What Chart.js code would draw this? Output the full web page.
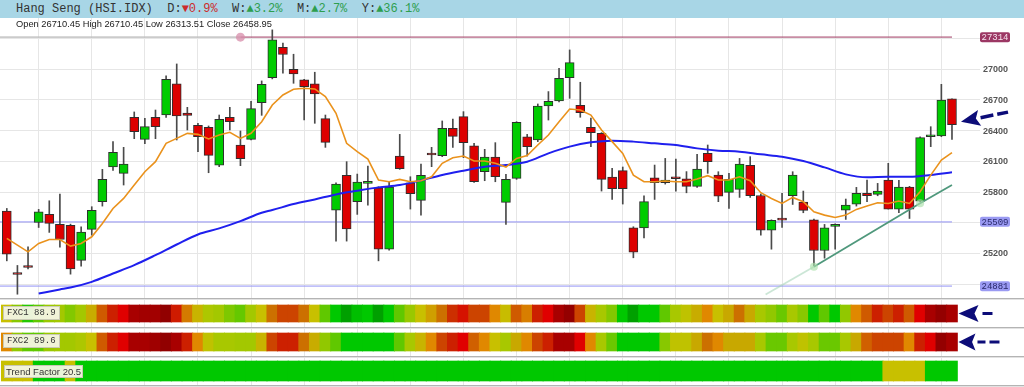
<!DOCTYPE html>
<html><head><meta charset="utf-8">
<script src="https://cdn.jsdelivr.net/npm/chart.js@4.4.1/dist/chart.umd.min.js"></script>
<style>
html,body{margin:0;padding:0;background:#fff;width:1024px;height:387px;overflow:hidden;position:relative;font-family:'Liberation Sans',Arial,sans-serif;}
.abs{position:absolute;}
#header{left:0;top:0;width:1024px;height:18px;background:#a8d6e6;font-family:'Liberation Mono','Courier New',monospace;font-size:12px;line-height:18px;color:#333;white-space:pre;}
#header .t{padding-left:16px;}
.dn{color:#cc2b2b;} .up{color:#2e9e4e;}
#ohlc{left:16px;top:18px;font-size:9.3px;line-height:13px;color:#222;white-space:pre;z-index:5;}
.sep{left:0;width:1024px;height:1px;background:#b4b4b4;border-bottom:1px solid #e2e2e2;z-index:4;}
.lab{background:rgba(246,246,228,0.95);border:1px solid #c9c9b4;color:#333;z-index:6;white-space:pre;}
.mono{font-family:'Liberation Mono','Courier New',monospace;font-size:9px;line-height:12px;padding:0 3px;}
.sans{font-family:'Liberation Sans',Arial,sans-serif;font-size:9.5px;line-height:11px;padding:0 1px;}
</style></head>
<body>
<div id="header" class="abs"></div>
<div id="ohlc" class="abs"></div>
<div class="abs" style="left:0;top:18px;width:1024px;height:280px;"><canvas id="main"></canvas></div>
<div class="abs sep" style="top:298px"></div>
<div class="abs" style="left:0;top:300px;width:1024px;height:27px;"><canvas id="s1"></canvas></div>
<div class="abs sep" style="top:327px"></div>
<div class="abs" style="left:0;top:328px;width:1024px;height:28px;"><canvas id="s2"></canvas></div>
<div class="abs sep" style="top:356px"></div>
<div class="abs" style="left:0;top:357px;width:1024px;height:28px;"><canvas id="s3"></canvas></div>
<div class="abs sep" style="top:385px"></div>
<div id="lab1" class="abs lab mono" style="left:3px;top:306px;"></div>
<div id="lab2" class="abs lab mono" style="left:3px;top:334px;"></div>
<div id="lab3" class="abs lab sans" style="left:4px;top:365px;"></div>
<script>
// ---------------- DATA ----------------
const title = 'Hang Seng (HSI.IDX)';
const changeKeys = ['D','W','M','Y'];
const changeVals = [-0.9, 3.2, 2.7, 36.1];

const open  = [25614,25014,25080,25503,25582,25484,25474,25132,25435,25706,
               26045,25983,26531,26315,26531,26553,26857,26573,26452,26433,
               26064,26531,26260,26315,26674,26919,27215,27000,26896,26857,
               26518,25624,25963,25706,25885,25842,25242,26152,25891,25719,
               26169,26156,26423,26537,26253,25999,26143,25699,25934,26341,
               26309,26641,26690,26919,26648,26433,26374,25947,26009,25451,
               25451,25940,25891,25934,25930,25855,26178,25966,25797,25826,
               26061,25767,25428,25529,25764,25702,25529,25229,25464,25624,
               25683,25787,25777,25917,25634,25849,25712,26341,26348,26710.45];
const high  = [25640,25083,25265,25631,25715,25781,25487,25461,25657,26022,
               26293,26237,26583,26521,26602,26935,27052,26628,26472,26446,
               26553,26628,26397,26687,26886,27385,27255,27147,26902,26971,
               26553,25891,26097,25976,26054,25852,25901,26364,25950,26074,
               26237,26495,26514,26586,26276,26218,26283,25973,26488,26364,
               26661,26782,27010,27189,26873,26524,26381,26032,26045,25461,
               25764,26064,26129,26123,26000,26169,26260,25999,25983,26129,
               26146,25781,25529,25787,25999,25810,25536,25484,25490,25732,
               25846,25917,25885,26081,25914,25856,26341,26439,26853,26710.45];
const low   = [25128,24802,25050,25454,25406,25262,24998,25076,25379,25663,
               26012,25869,26322,26273,26322,26530,26309,26407,26195,25989,
               26048,26407,26058,26309,26550,26906,26961,26863,26504,26472,
               26237,25321,25321,25582,25673,25128,25233,26022,25634,25575,
               26048,26146,26237,26136,25895,25911,25901,25484,25924,26152,
               26293,26504,26681,26716,26531,26244,25810,25728,25683,25158,
               25353,25728,25878,25810,25793,25846,25983,25706,25640,25748,
               25748,25379,25242,25454,25679,25598,25079,25154,25242,25533,
               25663,25706,25764,25634,25598,25542,25706,26244,26341,26313.51];
const close = [25194,24995,25063,25608,25494,25337,25050,25409,25621,25924,
               26188,26074,26390,26439,26439,26902,26544,26550,26341,26159,
               26511,26488,26126,26615,26853,27287,27144,26954,26831,26759,
               26286,25878,25441,25898,25891,25242,25849,26028,25784,25963,
               26162,26423,26345,26283,25901,26143,25950,25924,26482,26244,
               26641,26687,26912,27065,26576,26381,25924,25833,25833,25213,
               25706,25891,25917,25930,25855,26025,26097,25761,25924,26074,
               25764,25428,25523,25526,25966,25621,25229,25451,25484,25673,
               25787,25764,25810,25634,25849,25634,26332,26348,26700,26458.95];
// orange short moving average (read per candle)
const maFast = [25347,25282,25216,25298,25337,25337,25272,25298,25363,25494,
                25640,25738,25869,25999,26097,26276,26325,26374,26364,26319,
                26358,26384,26325,26374,26488,26651,26749,26805,26814,26808,
                26733,26570,26276,26195,26123,25918,25901,25924,25901,25911,
                25950,26081,26136,26152,26103,26103,26081,26045,26129,26156,
                26260,26358,26488,26612,26602,26553,26407,26293,26178,25966,
                25901,25901,25908,25901,25901,25927,25960,25918,25918,25950,
                25911,25794,25738,25689,25748,25706,25608,25575,25552,25575,
                25631,25663,25696,25689,25712,25689,25803,25966,26113,26185];
// blue long moving average (read at every other candle)
const maSlow = [null,null,null,24809,null,24848,24867,null,24923,null,
                25004,null,25086,null,25184,null,25288,null,25386,null,
                25445,null,25516,null,25598,25624,null,25683,null,25728,
                null,25777,null,25813,null,25846,null,25869,null,25914,
                null,25967,null,26009,null,26048,null,26064,null,26097,
                null,26178,null,26244,null,26286,null,26302,null,26293,
                null,26276,null,26260,null,26227,null,26205,null,26195,
                null,26169,null,26146,null,26103,null,26041,null,25973,
                null,25944,null,25950,null,25950,null,25967,null,25993];
// support/resistance levels
const levelValues = [27314, 25509, 24881];
const levelAnchor = 23;
// trend line (candle position, price)
const trendX = [72.45, 77, 87, 90];
const trendY = [24800, 25071, 25690, 25869];
// indicator strips (0 = strongly bearish, 100 = strongly bullish)
const fxc1 = [58,72,85,80,68, 66,73,66,53,36, 25,18,10,8,8, 2,24,42,55,64,
              66,74,79,66,58, 40,32,32,40,58, 80,88,96,90,88, 96,88,80,68,58,
              50,40,28,22,32, 32,45,57,36,43, 25,18,10,3,32, 55,65,73,88,96,
              88,88,80,65,60, 53,45,58,52,40, 52,65,70,78,65, 72,88,80,88,70,
              45,36,25,32,25, 36,18,10,3,10];
const fxc2 = [45,70,80,80,68, 66,66,64,58,36, 25,18,10,10,7, 2,10,25,45,60,
              65,65,66,66,55, 32,25,25,40,53, 70,80,88,88,88, 88,88,80,65,55,
              45,32,25,18,37, 45,58,65,52,45, 32,25,10,10,18, 45,65,78,88,88,
              88,88,72,60,60, 52,40,45,52,52, 52,65,78,78,65, 60,65,78,78,65,
              52,37,32,32,32, 45,25,18,3,10];
const trendFactor = [58,58,58,88,88, 88,58,88,88,88, 88,88,88,88,88, 88,88,88,88,88,
                     88,88,88,88,88, 88,88,88,88,88, 88,88,88,88,88, 88,88,88,88,88,
                     88,88,88,88,88, 88,88,88,88,88, 88,88,88,88,88, 88,88,88,88,88,
                     88,88,88,88,88, 88,88,88,88,88, 88,88,88,88,88, 88,88,88,88,88,
                     88,88,88,58,58, 58,58,88,88,88];
const stripNames = ['FXC1','FXC2','Trend Factor'];
const stripReadings = ['88.9','89.6','20.5'];

// ---------------- STYLE / LAYOUT ----------------
const N = open.length;
const STEP = 10.62;              // px per candle
const FIRST = 6.8;               // px of first candle
const RIGHT_AXIS = 44;
const X_MIN = 1 - FIRST/STEP;
const X_MAX = X_MIN + (1024-RIGHT_AXIS)/STEP;
const GRID = '#e6e6e6';
const NAVY = '#0c0c78';
const heatStops = [[0,'#8b0000'],[10,'#a80000'],[18,'#e00000'],[25,'#cc2000'],[32,'#cc4400'],[37,'#d06000'],
  [40,'#cc7000'],[45,'#e08800'],[52,'#c8a800'],[58,'#c8c000'],[65,'#a8c800'],[72,'#88c800'],
  [80,'#60c800'],[88,'#00c800'],[96,'#00a000'],[100,'#009000']];
function hex2rgb(h){return [parseInt(h.substr(1,2),16),parseInt(h.substr(3,2),16),parseInt(h.substr(5,2),16)];}
function heatColor(v){
  for(let i=1;i<heatStops.length;i++){
    if(v<=heatStops[i][0]){
      const [a,ca]=heatStops[i-1],[b,cb]=heatStops[i];
      const t=(v-a)/(b-a), A=hex2rgb(ca), B=hex2rgb(cb);
      return 'rgb('+A.map((c,k)=>Math.round(c+(B[k]-c)*t)).join(',')+')';
    }
  }
  return heatStops[heatStops.length-1][1];
}

// header + OHLC text
const hdr = document.getElementById('header');
let h = '<span class="t">'+title+'</span>';
changeKeys.forEach((k,i)=>{
  const v=changeVals[i];
  h += '  '+k+':<span class="'+(v<0?'dn':'up')+'">'+(v<0?'▼':'▲')+Math.abs(v).toFixed(1)+'%</span>';
});
hdr.innerHTML = h;
const L = N-1;
document.getElementById('ohlc').textContent =
  'Open '+open[L].toFixed(2)+' High '+high[L].toFixed(2)+' Low '+low[L].toFixed(2)+' Close '+close[L].toFixed(2);
['lab1','lab2','lab3'].forEach((id,i)=>{document.getElementById(id).textContent=stripNames[i]+' '+stripReadings[i];});

const xs = open.map((_,i)=>i+1);

function xScale(){
  return {type:'linear',min:X_MIN,max:X_MAX,offset:false,
    grid:{color:GRID,offset:false,drawTicks:false},border:{display:false},
    ticks:{display:false},
    afterBuildTicks(a){const t=[];for(let v=4;v<=X_MAX;v+=5)t.push({value:v});a.ticks=t;},
    afterFit(a){a.height=0;}};
}

function drawArrow(ctx,tipX,tipY,ang,headLen,halfW,dashes,thick){
  ctx.save();
  ctx.translate(tipX,tipY);ctx.rotate(ang);
  ctx.fillStyle=NAVY;
  ctx.beginPath();
  ctx.moveTo(0,0);ctx.lineTo(headLen,-halfW);ctx.lineTo(headLen*0.8,0);ctx.lineTo(headLen,halfW);ctx.closePath();ctx.fill();
  dashes.forEach(([a,b])=>ctx.fillRect(a,-thick/2,b-a,thick));
  ctx.restore();
}

const levelStyle = [
  {line:'rgba(170,80,115,0.65)',faded:'rgba(190,190,190,0.8)',box:'#9c3864',text:'#f6e4ee'},
  {line:'rgba(150,150,245,0.6)',faded:'rgba(150,150,245,0.6)',box:'#9a9af2',text:'#28286a'},
  {line:'rgba(150,150,245,0.6)',faded:'rgba(150,150,245,0.6)',box:'#9a9af2',text:'#28286a'}
];

const mainOverlay = {
  id:'mainOverlay',
  afterDatasetsDraw(chart){
    const ctx=chart.ctx, y=chart.scales.y, x=chart.scales.x;
    ctx.save();
    // tick labels
    ctx.font='bold 9px "Liberation Sans", Arial, sans-serif';
    ctx.fillStyle='#555';ctx.textBaseline='middle';ctx.textAlign='left';
    y.ticks.forEach(t=>{
      const py=y.getPixelForValue(t.value);
      if(levelValues.some(l=>Math.abs(y.getPixelForValue(l)-py)<9))return;
      ctx.fillText(String(t.value),983,py+0.5);
    });
    // level boxes
    levelValues.forEach((l,i)=>{
      const py=y.getPixelForValue(l);
      ctx.fillStyle=levelStyle[i].box;
      ctx.beginPath();ctx.roundRect(980,py-5,30,10,2);ctx.fill();
      ctx.fillStyle=levelStyle[i].text;
      ctx.font='9px "Liberation Mono", monospace';
      ctx.textAlign='center';
      ctx.fillText(String(l),995,py+0.5);
      ctx.textAlign='left';
    });
    ctx.restore();
    // arrow to last candle
    drawArrow(ctx,x.getPixelForValue(N)+9,y.getPixelForValue(close[L])-3,-0.2,19,8,[[20,33],[37,48]],3.5);
  }
};

new Chart(document.getElementById('main'),{
  type:'bar',
  data:{datasets:[
    {type:'bar',label:'wick',data:xs.map(i=>({x:i,y:[low[i-1],high[i-1]]})),
     barThickness:1,backgroundColor:'#4a4a4a',grouped:false,order:10},
    {type:'bar',label:'body',data:xs.map(i=>({x:i,y:[open[i-1],close[i-1]]})),
     barThickness:9,grouped:false,order:9,minBarLength:2,
     backgroundColor:c=>close[c.dataIndex]>=open[c.dataIndex]?'#00cc00':'#dd0000',
     borderColor:'#2e2e2e',borderWidth:1,borderSkipped:false},
    ...levelValues.map((l,i)=>({type:'line',label:'level'+i,order:11,
      data:(i===0?[X_MIN,levelAnchor,N]:[X_MIN,N]).map(x=>({x,y:l})),
      borderWidth:1.6,borderColor:levelStyle[i].line,
      segment:{borderColor:c=>(i===0&&c.p0DataIndex===0)?levelStyle[i].faded:levelStyle[i].line},
      pointRadius:c=>(i===0&&c.dataIndex===1)?4.5:0,
      pointBackgroundColor:'rgba(215,140,170,0.75)',pointBorderWidth:0})),
    {type:'line',label:'maSlow',order:3,data:xs.map(i=>({x:i,y:maSlow[i-1]})),spanGaps:true,
     borderColor:'#1f1fee',borderWidth:2,pointRadius:0,cubicInterpolationMode:'monotone'},
    {type:'line',label:'maFast',order:2,data:xs.map(i=>({x:i,y:maFast[i-1]})),
     borderColor:'#ea921c',borderWidth:1.6,pointRadius:0,tension:0},
    {type:'line',label:'trend',order:1,data:trendX.map((x,i)=>({x,y:trendY[i]})),
     borderWidth:1.8,borderColor:'#4f987c',
     segment:{borderColor:c=>c.p0DataIndex===0?'rgba(160,210,180,0.55)':'#4f987c'},
     pointRadius:c=>(c.dataIndex===1||c.dataIndex===2)?4:0,
     pointBackgroundColor:'rgba(170,225,170,0.65)',pointBorderWidth:0}
  ]},
  options:{
    responsive:true,maintainAspectRatio:false,animation:false,devicePixelRatio:1,
    layout:{padding:0},
    plugins:{legend:{display:false},tooltip:{enabled:false}},
    scales:{
      x:xScale(),
      y:{type:'linear',position:'right',min:24765,max:27501,
        grid:{color:GRID,drawTicks:false},border:{display:false},ticks:{display:false},
        afterBuildTicks(a){const t=[];for(let v=24900;v<=27300;v+=300)t.push({value:v});a.ticks=t;},
        afterFit(a){a.width=RIGHT_AXIS;}}
    }
  },
  plugins:[mainOverlay]
});

function strip(id,values,range,arrow){
  const over={id:'so'+id,afterDatasetsDraw(chart){
    if(!arrow)return;
    const x=chart.scales.x,y=chart.scales.y;
    const cy=(y.getPixelForValue(0)+y.getPixelForValue(1))/2;
    drawArrow(chart.ctx,x.getPixelForValue(N)+6.5,cy,0,arrow.len,arrow.half,arrow.dashes,3);
  }};
  new Chart(document.getElementById(id),{
    type:'bar',
    data:{datasets:[{data:xs.map(i=>({x:i,y:1})),barThickness:11,grouped:false,
      backgroundColor:c=>heatColor(values[c.dataIndex]),borderWidth:0}]},
    options:{responsive:true,maintainAspectRatio:false,animation:false,devicePixelRatio:1,
      layout:{padding:{left:0,right:RIGHT_AXIS,top:0,bottom:0}},
      plugins:{legend:{display:false},tooltip:{enabled:false}},
      scales:{x:xScale(),y:{type:'linear',display:false,min:range[0],max:range[1]}}},
    plugins:[over]
  });
}
strip('s1',fxc1,[-5/17,1+5/17],{len:20,half:8.5,dashes:[[24,34]]});
strip('s2',fxc2,[-5/18,1+5/18],{len:17,half:8.5,dashes:[[19,27],[31,41]]});
strip('s3',trendFactor,[-0.2,1.2],null);
</script>
</body></html>
